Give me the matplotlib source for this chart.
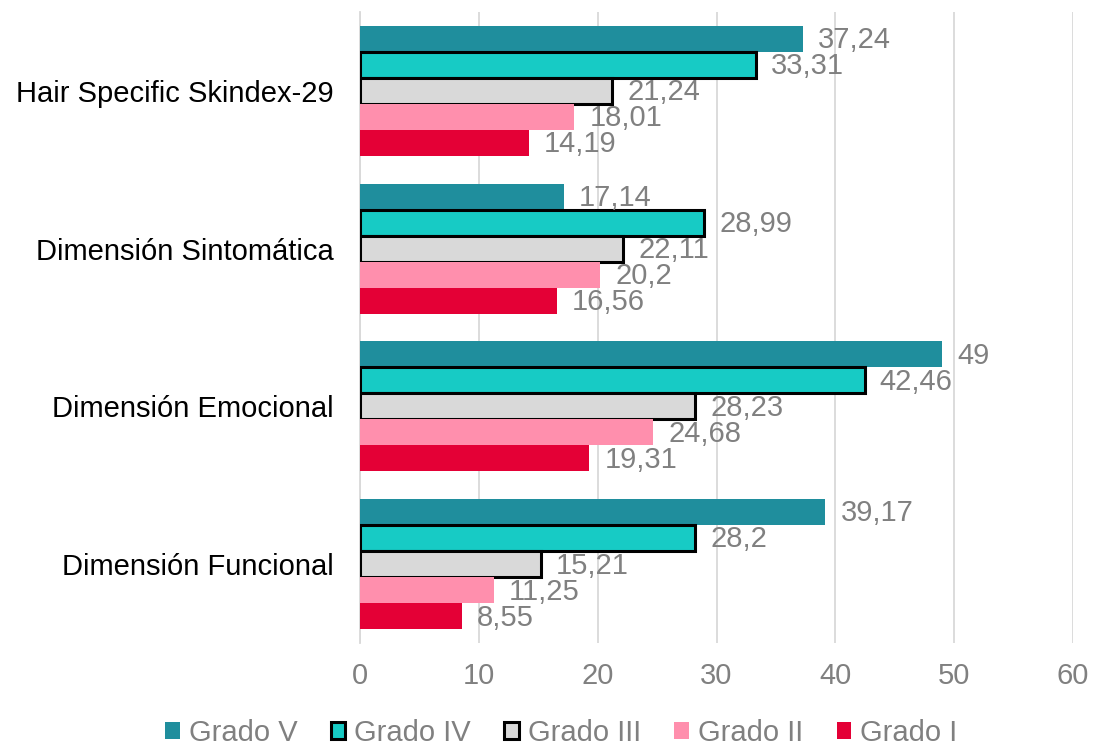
import matplotlib
matplotlib.use("Agg")
import matplotlib.pyplot as plt
import numpy as np

plt.rcParams['font.family'] = ['Liberation Sans', 'DejaVu Sans']

categories = ["Hair Specific Skindex-29", "Dimensión Sintomática", "Dimensión Emocional", "Dimensión Funcional"]
series = ["Grado V", "Grado IV", "Grado III", "Grado II", "Grado I"]
values = {
    "Grado V":   [37.24, 17.14, 49, 39.17],
    "Grado IV":  [33.31, 28.99, 42.46, 28.2],
    "Grado III": [21.24, 22.11, 28.23, 15.21],
    "Grado II":  [18.01, 20.2, 24.68, 11.25],
    "Grado I":   [14.19, 16.56, 19.31, 8.55],
}
labels = {
    "Grado V":   ["37,24", "17,14", "49", "39,17"],
    "Grado IV":  ["33,31", "28,99", "42,46", "28,2"],
    "Grado III": ["21,24", "22,11", "28,23", "15,21"],
    "Grado II":  ["18,01", "20,2", "24,68", "11,25"],
    "Grado I":   ["14,19", "16,56", "19,31", "8,55"],
}
colors = {"Grado V": "#1F8E9D", "Grado IV": "#17CBC5", "Grado III": "#D9D9D9",
          "Grado II": "#FF8FAD", "Grado I": "#E40036"}
edges = {"Grado V": None, "Grado IV": "black", "Grado III": "black", "Grado II": None, "Grado I": None}

FS = 21
fig = plt.figure(figsize=(10.94, 7.47), dpi=100)
ax = fig.add_axes([360/1094, 1-643/747, (1073-360)/1094, (643-12)/747])

n = len(series)
bh = 0.825 / n
y0 = np.arange(len(categories))
for i, s in enumerate(series):
    ys = y0 - 0.825/2 + bh*(i+0.5)
    if edges[s]:
        kw = dict(edgecolor="black", linewidth=2.2)
    else:
        kw = dict(linewidth=0)
    bars = ax.barh(ys, values[s], height=bh, color=colors[s], label=s, zorder=3, **kw)
    for b, v, lab in zip(bars, values[s], labels[s]):
        ax.annotate(lab, (v, b.get_y()+b.get_height()/2), xytext=(11, -1), textcoords="offset points",
                    va="center", ha="left", fontsize=FS, color="#808080", zorder=4)

ax.set_ylim(len(categories)-0.5, -0.5)
ax.set_xlim(0, 60)
ax.set_xticks(range(0, 61, 10))
ax.set_yticks(y0)
ax.set_yticklabels(categories, fontsize=FS, color="black")
ax.tick_params(axis='y', length=0, pad=19)
ax.tick_params(axis='x', length=0, labelsize=FS, labelcolor="#808080", pad=14)
ax.grid(axis='x', color="#D9D9D9", linewidth=1.3, zorder=0)
for sp in ["top", "right", "bottom"]:
    ax.spines[sp].set_visible(False)
ax.spines["left"].set_color("#D9D9D9")
ax.spines["left"].set_linewidth(1.3)

leg = fig.legend(loc="center", bbox_to_anchor=(0.513, 0.019), ncol=5, frameon=False,
                 fontsize=FS, labelcolor="#808080", handlelength=0.5, handleheight=0.5,
                 handletextpad=0.3, columnspacing=1.15)

fig.savefig("out.png", dpi=100)
